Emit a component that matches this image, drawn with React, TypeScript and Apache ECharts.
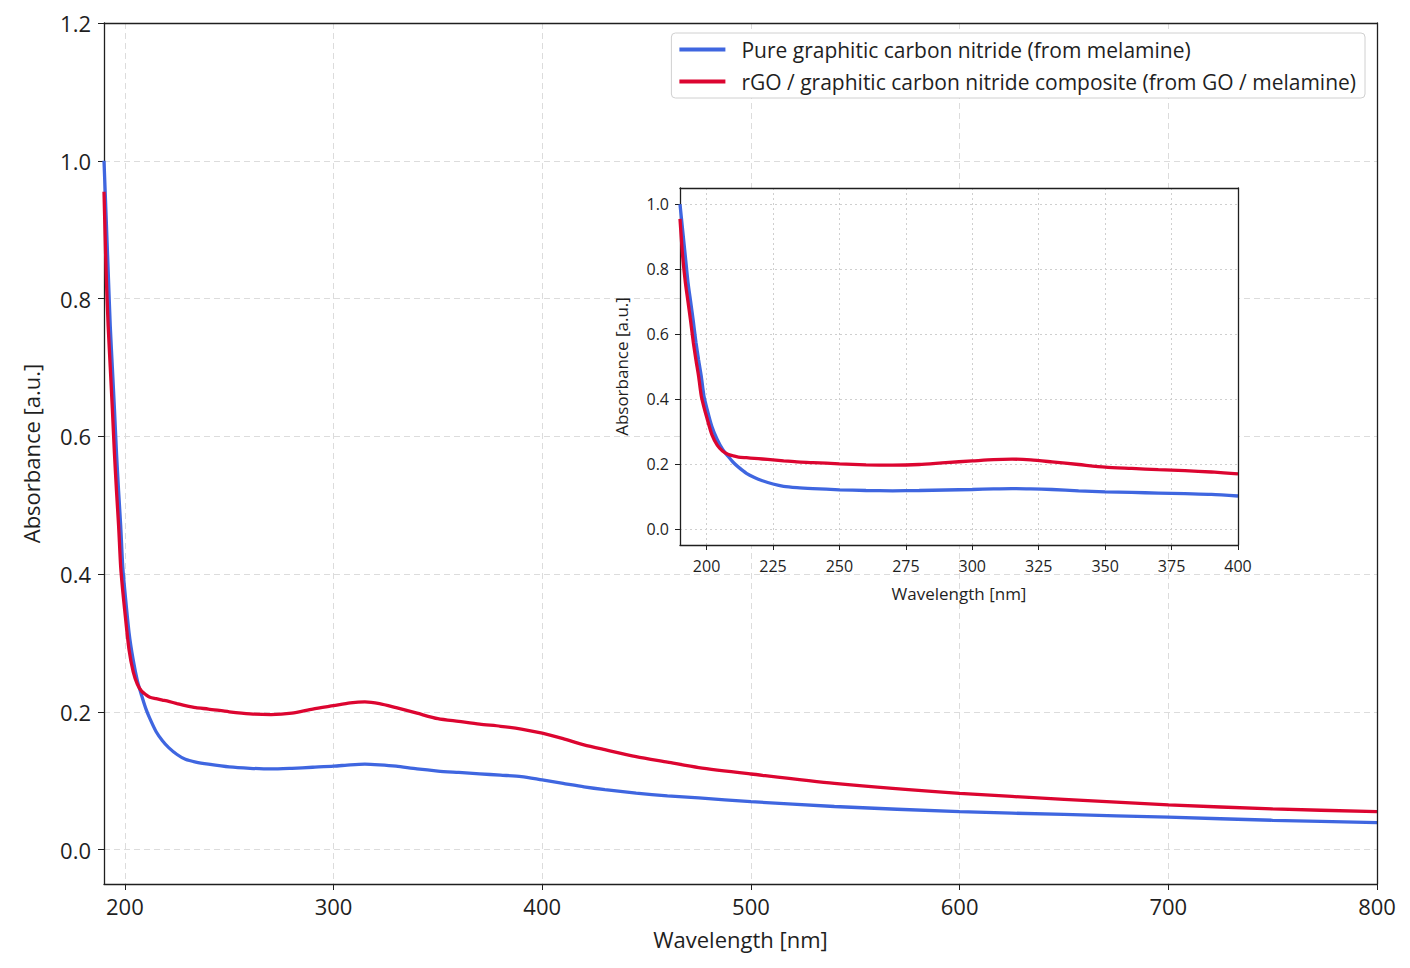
import { useEffect, useRef } from 'react';
import * as echarts from 'echarts';

// wavelength grid [nm] shared by both spectra
const wavelengths = [
  190, 191, 192, 193, 194, 195, 196, 197, 198, 199, 200, 202, 204, 206, 208, 210, 212, 215,
  218, 221, 225, 229, 234, 240, 250, 260, 270, 280, 290, 300, 308, 315, 322, 330, 340, 350, 360,
  370, 380, 390, 400, 410, 420, 430, 445, 460, 475, 500, 540, 600, 650, 700, 750, 800,
];

const pureGCN = [
  1.0, 0.92, 0.84, 0.76, 0.7, 0.64, 0.575, 0.52, 0.47, 0.41, 0.375, 0.315, 0.275, 0.245, 0.224,
  0.205, 0.19, 0.171, 0.158, 0.148, 0.138, 0.131, 0.127, 0.124, 0.12, 0.118, 0.117, 0.118, 0.1195,
  0.121, 0.123, 0.124, 0.123, 0.121, 0.117, 0.114, 0.112, 0.11, 0.108, 0.106, 0.101, 0.096, 0.091,
  0.087, 0.082, 0.078, 0.075, 0.0696, 0.0625, 0.055, 0.051, 0.047, 0.0425, 0.039,
];

const rgoGCN = [
  0.955, 0.84, 0.76, 0.7, 0.64, 0.575, 0.52, 0.47, 0.41, 0.375, 0.345, 0.29, 0.258, 0.24, 0.23,
  0.225, 0.221, 0.219, 0.217, 0.215, 0.212, 0.209, 0.206, 0.204, 0.2, 0.197, 0.196, 0.198, 0.204,
  0.209, 0.213, 0.2145, 0.212, 0.206, 0.198, 0.19, 0.186, 0.182, 0.179, 0.175, 0.169, 0.161, 0.152,
  0.145, 0.135, 0.127, 0.119, 0.1097, 0.096, 0.0816, 0.073, 0.065, 0.059, 0.055,
];

const mainXTicks = [200, 300, 400, 500, 600, 700, 800];
const mainYTicks = [0, 0.2, 0.4, 0.6, 0.8, 1.0, 1.2];
const insetXTicks = [200, 225, 250, 275, 300, 325, 350, 375, 400];
const insetYTicks = [0, 0.2, 0.4, 0.6, 0.8, 1.0];

const seriesNames = [
  'Pure graphitic carbon nitride (from melamine)',
  'rGO / graphitic carbon nitride composite (from GO / melamine)',
];
const colors = ['#3f66e0', '#dc0530'];

const FONT = '"Open Sans"';
const INK = '#1f1f1f';

export default function App() {
  const chartRef = useRef<HTMLDivElement>(null);

  useEffect(() => {
    if (!chartRef.current) return;
    const chart = echarts.init(chartRef.current, null, { renderer: 'svg' });

    const toPairs = (ys: number[]) => wavelengths.map((w, i) => [w, ys[i]]);
    const insetPairs = (ys: number[]) =>
      wavelengths.filter((w) => w <= 400).map((w, i) => [w, ys[i]]);

    const axisLine = { show: true, onZero: false, lineStyle: { color: INK, width: 1.3 } };
    const yFmt = (v: number) => v.toFixed(1);

    // frame-only axes for the top and right edges of each box
    const frameAxis = (gridIndex: number, position: string, min: number, max: number) => ({
      type: 'value',
      gridIndex,
      position,
      min,
      max,
      z: 10,
      axisLine,
      axisTick: { show: false },
      axisLabel: { show: false },
      splitLine: { show: false },
    });

    const lineSeries = (name: string, data: number[][], color: string, idx: number, z: number) => ({
      name,
      type: 'line',
      data,
      xAxisIndex: idx,
      yAxisIndex: idx,
      showSymbol: false,
      smooth: 0.25,
      z,
      lineStyle: { color, width: 3.3 },
      itemStyle: { color },
    });

    const option = {
      animation: false,
      backgroundColor: '#fff',
      textStyle: { fontFamily: FONT },
      legend: {
        data: seriesNames,
        orient: 'vertical',
        right: 45,
        top: 33,
        icon: 'rect',
        itemWidth: 46,
        itemHeight: 4,
        itemGap: 11,
        padding: [6, 9, 6, 8],
        borderColor: '#d0d0d0',
        borderWidth: 1,
        borderRadius: 4,
        backgroundColor: '#fff',
        textStyle: { fontSize: 21, color: INK, fontFamily: FONT, padding: [0, 0, 0, 11] },
      },
      grid: [
        {
          left: 104,
          right: 33,
          top: 23,
          bottom: 84,
          show: true,
          borderWidth: 0,
          backgroundColor: '#fff',
        },
        {
          left: 680,
          right: 172,
          top: 188,
          bottom: 423,
          show: true,
          borderWidth: 0,
          backgroundColor: '#fff',
          z: 5,
        },
      ],
      xAxis: [
        {
          type: 'value',
          gridIndex: 0,
          min: 190,
          max: 800,
          name: 'Wavelength [nm]',
          nameLocation: 'middle',
          nameGap: 44,
          nameTextStyle: { fontSize: 22, color: INK, fontFamily: FONT },
          axisLine,
          axisTick: { show: true, length: 6, customValues: mainXTicks, lineStyle: { color: INK } },
          axisLabel: { fontSize: 22, color: INK, margin: 11, customValues: mainXTicks },
          splitLine: { show: true, lineStyle: { color: '#dcdcdc', type: [6, 4], width: 1 } },
        },
        {
          type: 'value',
          gridIndex: 1,
          min: 190,
          max: 400,
          name: 'Wavelength [nm]',
          nameLocation: 'middle',
          nameGap: 40,
          nameTextStyle: { fontSize: 17, color: INK, fontFamily: FONT },
          axisLine,
          axisTick: { show: true, length: 5, customValues: insetXTicks, lineStyle: { color: INK } },
          axisLabel: { fontSize: 16, color: INK, margin: 13, customValues: insetXTicks },
          splitLine: { show: true, lineStyle: { color: '#cfcfcf', type: [2, 3], width: 1 } },
          z: 6,
        },
        frameAxis(0, 'top', 190, 800),
        frameAxis(1, 'top', 190, 400),
      ],
      yAxis: [
        {
          type: 'value',
          gridIndex: 0,
          min: -0.05,
          max: 1.2,
          name: 'Absorbance [a.u.]',
          nameLocation: 'middle',
          nameGap: 62,
          nameTextStyle: { fontSize: 22, color: INK, fontFamily: FONT },
          axisLine,
          axisTick: { show: true, length: 6, customValues: mainYTicks, lineStyle: { color: INK } },
          axisLabel: { fontSize: 22, color: INK, margin: 13, customValues: mainYTicks, formatter: yFmt },
          splitLine: { show: true, lineStyle: { color: '#dcdcdc', type: [6, 4], width: 1 } },
        },
        {
          type: 'value',
          gridIndex: 1,
          min: -0.05,
          max: 1.05,
          name: 'Absorbance [a.u.]',
          nameLocation: 'middle',
          nameGap: 50,
          nameTextStyle: { fontSize: 17, color: INK, fontFamily: FONT },
          axisLine,
          axisTick: { show: true, length: 5, customValues: insetYTicks, lineStyle: { color: INK } },
          axisLabel: { fontSize: 16, color: INK, margin: 11, customValues: insetYTicks, formatter: yFmt },
          splitLine: { show: true, lineStyle: { color: '#cfcfcf', type: [2, 3], width: 1 } },
          z: 6,
        },
        frameAxis(0, 'right', -0.05, 1.2),
        frameAxis(1, 'right', -0.05, 1.05),
      ],
      series: [
        lineSeries(seriesNames[0], toPairs(pureGCN), colors[0], 0, 2),
        lineSeries(seriesNames[1], toPairs(rgoGCN), colors[1], 0, 3),
        lineSeries(seriesNames[0], insetPairs(pureGCN), colors[0], 1, 7),
        lineSeries(seriesNames[1], insetPairs(rgoGCN), colors[1], 1, 8),
      ],
    };

    chart.setOption(option);
    const onResize = () => chart.resize();
    window.addEventListener('resize', onResize);
    return () => {
      window.removeEventListener('resize', onResize);
      chart.dispose();
    };
  }, []);

  return <div ref={chartRef} style={{ width: 1410, height: 968, margin: -8 }} />;
}
